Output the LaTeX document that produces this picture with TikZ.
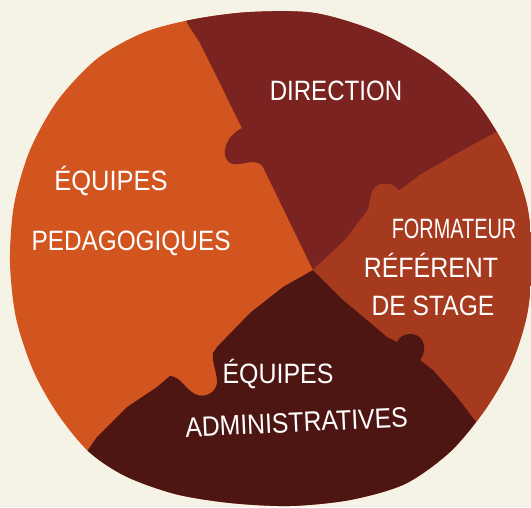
\documentclass[tikz,border=0pt]{standalone}
\usepackage{fontspec}
\setmainfont{Liberation Sans}
\usepackage{graphicx}
\definecolor{bgc}{HTML}{F4F3E6}
\definecolor{orangep}{HTML}{D2541E}
\definecolor{dirp}{HTML}{7B2320}
\definecolor{rustp}{HTML}{A63A1E}
\definecolor{admp}{HTML}{4E1613}
\newcommand\sqz[2]{\scalebox{#1}[1]{#2}}
\tikzset{
  lbl/.style={text=white, anchor=base, inner sep=0pt, font=\fontsize{28}{32}\selectfont},
}
\begin{document}
\begin{tikzpicture}[x=1pt,y=-1pt]
\fill[bgc] (0,0) rectangle (531,507);
\useasboundingbox (0,0) rectangle (531,507);
\begin{scope}
\clip plot[smooth cycle] coordinates {
 (250,12) (315,13) (378,32) (432,62) (475,100) (508,152) (527,205) (532,260)
 (527,315) (511,365) (485,410) (450,452) (405,484) (350,500) (290,506)
 (230,503) (175,494) (125,476) (88,451) (57,413) (33,370) (16,318) (10,262)
 (14,205) (30,150) (58,100) (98,58) (145,32) (195,19)};
% orange base
\fill[orangep] (-10,-10) rectangle (545,520);
% direction
\fill[dirp] (313,270) -- (263,167)
  .. controls (258,160) and (250,162) .. (240,164)
  .. controls (228,166) and (224,158) .. (225,150)
  .. controls (226,140) and (234,132) .. (242,128)
  -- (233,110) -- (217,77) -- (200,43) -- (187,23) -- (180,-10)
  -- (560,-10) -- (560,100) -- (500,130) -- (460,152) -- (420,175) -- (399,191)
  .. controls (396,187) and (393,184) .. (386,184)
  .. controls (380,183) and (372,186) .. (371,197)
  -- (368,210) -- (345,240) -- cycle;
% formateur
\fill[rustp] (313,270) -- (345,240) -- (368,210) -- (371,197)
  .. controls (372,186) and (380,183) .. (386,184)
  .. controls (393,184) and (396,187) .. (399,191)
  -- (420,175) -- (460,152) -- (500,130) -- (560,100) -- (560,470)
  -- (477,423) -- (457,397) -- (433,370) -- (420,360)
  .. controls (426,353) and (426,341) .. (418,336)
  .. controls (412,332) and (400,334) .. (397,342)
  -- (387,337) -- (367,320) -- (343,300) -- cycle;
% administratives
\fill[admp] (313,270) -- (343,300) -- (367,320) -- (387,337) -- (397,342)
  .. controls (400,334) and (412,332) .. (418,336)
  .. controls (426,341) and (426,353) .. (420,360)
  -- (433,370) -- (457,397) -- (477,423) -- (560,470) -- (560,540)
  -- (50,540) -- (88,450) -- (97,437) -- (127,407) -- (157,387) -- (170,376)
  .. controls (180,376) and (186,390) .. (195,394)
  .. controls (205,399) and (218,392) .. (217,380)
  .. controls (216,370) and (212,362) .. (213,353)
  -- (217,347) -- (250,313) -- (283,287) -- cycle;
\end{scope}
\node[lbl] (dir) at (336,100) {\sqz{0.86}{DIRECTION}};
\node[lbl] (eq1) at (111,190) {\sqz{0.91}{ÉQUIPES}};
\node[lbl] (ped) at (131,250) {\sqz{0.87}{PEDAGOGIQUES}};
\node[lbl] (for) at (454,238) {\sqz{0.71}{FORMATEUR}};
\node[lbl] (ref) at (431,277) {\sqz{0.89}{RÉFÉRENT}};
\node[lbl] (sta) at (433,315) {\sqz{0.88}{DE STAGE}};
\node[lbl] (eq2) at (278,383) {\sqz{0.89}{ÉQUIPES}};
\node[lbl, rotate=2.6] (adm) at (297,432) {\sqz{0.885}{ADMINISTRATIVES}};
\end{tikzpicture}
\end{document}
